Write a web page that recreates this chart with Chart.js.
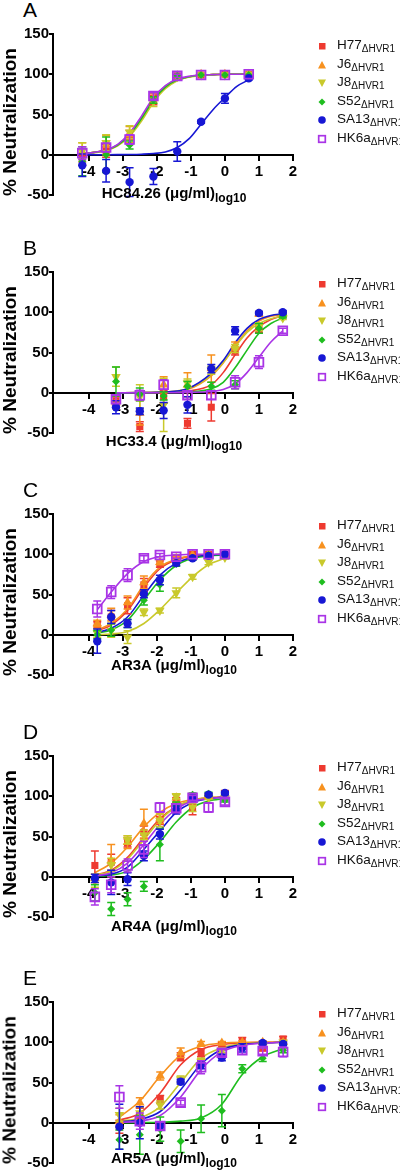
<!DOCTYPE html>
<html><head><meta charset="utf-8">
<script src="https://cdn.jsdelivr.net/npm/chart.js@4.4.0/dist/chart.umd.min.js"></script>
<style>
body{margin:0;width:400px;height:1172px;position:relative;background:#fff;overflow:hidden;font-family:"Liberation Sans",Arial,sans-serif;color:#000}
canvas{position:absolute;left:0}
.let{position:absolute;left:23px;font-size:21px;line-height:21px}
.ytitle{position:absolute;left:9px;font-weight:bold;font-size:19px;line-height:19px;white-space:nowrap;transform:translate(-50%,-50%) rotate(-90deg)}
.xtitle{position:absolute;left:174px;font-weight:bold;font-size:15px;line-height:15px;white-space:nowrap;transform:translateX(-50%)}
.xtitle sub{font-size:12px;vertical-align:baseline;position:relative;top:4px}
.leg{position:absolute;left:337px;font-size:13.5px;line-height:16px;white-space:nowrap;color:#111}
.leg sub{font-size:10px;vertical-align:baseline;position:relative;top:3px}
svg.mk{position:absolute;width:12px;height:12px}
</style></head><body>
<script>
// ---------- DATA ----------
const series = ['H77', 'J6', 'J8', 'S52', 'SA13', 'HK6a'];
const subLabel = 'ΔHVR1';
const xTicks = [-4, -3, -2, -1, 0, 1, 2];
const yTicks = [-50, 0, 50, 100, 150];
const antibodies = ['HC84.26', 'HC33.4', 'AR3A', 'AR4A', 'AR5A'];

// Panel A
const xA = [-4.19, -3.49, -2.8, -2.1, -1.4, -0.7, 0, 0.7];
const valA = [
  [-3, 5, 22, 68, 98, 99, 100, 100],
  [3, 12, 25, 70, 98, 100, 100, 100],
  [5, 15, 28, 66, 97, 99, 99, 100],
  [-8, 0, 12, 68, 98, 99, 99, 99],
  [-13, -20, -34, -27, 4, 41, 70, 95],
  [2, 9, 19, 73, 98, 99, 99, 100]
];
const errA = [
  [10, 8, 8, 6, 0, 0, 0, 0],
  [12, 12, 10, 6, 0, 0, 0, 0],
  [10, 10, 8, 6, 0, 0, 0, 0],
  [18, 22, 5, 4, 0, 0, 0, 0],
  [14, 14, 18, 10, 12, 2, 6, 2],
  [8, 5, 6, 4, 2, 0, 0, 0]
];
const fitXA = [-4.19, -3.84, -3.49, -3.15, -2.8, -2.45, -2.1, -1.75, -1.4, -1.05, -0.7, -0.35, 0, 0.35, 0.7];
const fitA = [
  [1.5, 3, 6, 12, 25, 45, 68, 84, 93, 97, 99, 99.5, 100, 100, 100],
  [1.5, 3, 6, 12, 26, 46, 69, 85, 93, 97, 99, 99.5, 100, 100, 100],
  [1, 2.5, 5, 11, 23, 42, 65, 82, 92, 96.5, 98.5, 99.5, 100, 100, 100],
  [1.5, 3, 6, 12, 25, 45, 68, 84, 93, 97, 99, 99.5, 100, 100, 100],
  [0, 0, 0, 0.1, 0.3, 0.7, 1.5, 3.5, 9, 20, 38, 56, 71, 85, 93],
  [1.5, 3, 6, 13, 27, 48, 71, 86, 94, 97.5, 99, 99.5, 100, 100, 100]
];

// Panel B
const xB = [-3.2, -2.5, -1.8, -1.1, -0.4, 0.3, 1.0, 1.7];
const valB = [
  [-10, -42, -5, -38, -18, 52, 80, 97],
  [-12, -25, 10, 10, 30, 58, 98, 98],
  [20, -5, -15, 12, 28, 55, 82, 93],
  [14, -2, -4, 8, 8, 10, 80, 95],
  [-18, -23, -22, -15, 30, 77, 99, 100],
  [-8, -3, 10, -3, -3, 13, 38, 77]
];
const errB = [
  [5, 6, 8, 6, 17, 5, 5, 3],
  [8, 15, 10, 15, 17, 5, 3, 2],
  [12, 15, 33, 5, 5, 5, 5, 2],
  [18, 8, 5, 6, 5, 5, 6, 2],
  [8, 4, 10, 10, 5, 5, 2, 2],
  [5, 6, 6, 5, 5, 8, 8, 3]
];
const fitXB = [-3.2, -2.5, -1.8, -1.1, -0.4, -0.05, 0.3, 0.65, 1.0, 1.35, 1.7];
const fitB = [
  [0, 0, 0.5, 2, 10, 25, 47, 68, 82, 91, 96],
  [0, 0.3, 1, 4, 21, 37, 58, 77, 89, 95, 97],
  [0, 0.3, 1, 5, 22, 38, 57, 75, 86, 92, 95],
  [0, 0, 0.3, 1, 5, 13, 31, 53, 74, 86, 93],
  [0, 0.3, 1, 5, 24, 40, 62, 80, 91, 96, 98],
  [0, 0, 0, 0.5, 1.5, 4, 11, 25, 44, 63, 77]
];

// Panel C
const xC = [-3.75, -3.34, -2.86, -2.38, -1.91, -1.43, -0.95, -0.48, 0];
const valC = [
  [12, 22, 36, 62, 88, 95, 100, 100, 100],
  [14, 25, 40, 65, 90, 95, 99, 100, 99],
  [2, 5, -3, 28, 30, 52, 72, 90, 96],
  [0, 6, 14, 43, 62, 88, 95, 99, 100],
  [-8, 22, 14, 51, 68, 89, 95, 98, 100],
  [32, 53, 74, 95, 99, 97, 100, 100, 100]
];
const errC = [
  [4, 8, 10, 8, 4, 2, 0, 0, 0],
  [4, 8, 8, 8, 3, 2, 0, 0, 0],
  [5, 8, 8, 4, 3, 6, 3, 3, 2],
  [5, 8, 5, 6, 8, 3, 2, 0, 0],
  [15, 8, 5, 5, 6, 3, 2, 0, 0],
  [10, 8, 8, 3, 2, 2, 0, 0, 0]
];
const fitXC = xC;
const fitC = [
  [5, 12, 30, 59, 82, 93, 98, 99, 100],
  [6, 14, 32, 62, 84, 94, 98, 99, 100],
  [0, 1, 4, 14, 31, 52, 72, 87, 95],
  [2, 6, 18, 43, 68, 86, 95, 98, 99],
  [3, 8, 22, 49, 74, 89, 96, 99, 100],
  [31, 53, 76, 91, 97, 99, 100, 100, 100]
];

// Panel D
const xD = [-3.82, -3.34, -2.86, -2.38, -1.91, -1.43, -0.95, -0.48, 0];
const valD = [
  [14, 18, 42, 55, 70, 95, 86, 100, 103],
  [-2, 20, 43, 66, 72, 98, 100, 100, 100],
  [-5, 15, 46, 52, 70, 100, 86, 98, 98],
  [-20, -40, -28, -12, 40, 88, 102, 103, 95],
  [-2, -7, -3, 26, 53, 83, 98, 102, 104],
  [-25, -10, 14, 34, 86, 85, 98, 86, 93]
];
const errD = [
  [18, 10, 5, 8, 5, 3, 9, 3, 4],
  [5, 20, 8, 18, 6, 5, 3, 2, 2],
  [8, 8, 5, 6, 8, 3, 5, 2, 2],
  [10, 8, 8, 6, 20, 5, 2, 2, 2],
  [5, 15, 8, 6, 6, 5, 2, 2, 2],
  [10, 10, 8, 10, 6, 5, 3, 6, 4]
];
const fitXD = xD;
const fitD = [
  [2, 8, 24, 49, 72, 87, 95, 98, 99],
  [5, 17, 37, 62, 80, 91, 96, 98, 99],
  [2, 7, 22, 46, 70, 87, 95, 98, 99],
  [0.5, 2, 7, 22, 43, 68, 86, 94, 97],
  [1, 3, 12, 34, 57, 80, 92, 97, 99],
  [1, 5, 17, 40, 65, 84, 94, 97, 99]
];

// Panel E
const xE = [-3.1, -2.5, -1.9, -1.3, -0.7, -0.09, 0.51, 1.11, 1.71];
const valE = [
  [-5, 8, 29, 82, 87, 97, 102, 93, 104],
  [2, 25, 58, 87, 98, 99, 100, 100, 100],
  [10, 12, 22, 54, 76, 90, 95, 97, 100],
  [-21, -15, -8, -23, 5, 15, 67, 80, 90],
  [-5, 0, -4, 51, 72, 81, 93, 99, 98],
  [32, 2, -4, 25, 69, 87, 90, 89, 88]
];
const errE = [
  [8, 10, 5, 5, 5, 3, 4, 4, 3],
  [8, 6, 5, 6, 3, 2, 2, 2, 2],
  [8, 8, 5, 4, 4, 3, 3, 2, 2],
  [12, 24, 15, 14, 17, 20, 5, 4, 3],
  [28, 20, 5, 3, 5, 4, 5, 2, 2],
  [14, 10, 5, 3, 8, 4, 5, 4, 6]
];
const fitXE = xE;
const fitE = [
  [3, 12, 37, 72, 91, 97, 99, 100, 100],
  [7, 27, 58, 84, 95, 99, 100, 100, 100],
  [2, 6, 20, 50, 80, 93, 98, 99, 100],
  [0, 0.2, 0.7, 2, 6, 23, 60, 82, 92],
  [1, 4, 14, 41, 73, 91, 97, 99, 100],
  [0.5, 2, 9, 32, 66, 88, 96, 99, 100]
];

// ---------- STYLE / LAYOUT ----------
const colors = ['#ee3a30', '#f7911f', '#c9c92b', '#1fbd1f', '#1717d4', '#a934e6'];
const markers = [
  {style: 'rect', radius: 5, rotation: 0, fill: true},
  {style: 'triangle', radius: 5.5, rotation: 0, fill: true},
  {style: 'triangle', radius: 5.5, rotation: 180, fill: true},
  {style: 'rectRot', radius: 4, rotation: 0, fill: true},
  {style: 'circle', radius: 4.2, rotation: 0, fill: true},
  {style: 'rect', radius: 6.2, rotation: 0, fill: false}
];
const FONT = '"Liberation Sans", Arial, sans-serif';

const panels = [
  {letter: 'A', ab: antibodies[0], top: 34, titleBase: 198, x: xA, val: valA, err: errA, fx: fitXA, fit: fitA},
  {letter: 'B', ab: antibodies[1], top: 272, titleBase: 446, x: xB, val: valB, err: errB, fx: fitXB, fit: fitB},
  {letter: 'C', ab: antibodies[2], top: 514, titleBase: 670, x: xC, val: valC, err: errC, fx: fitXC, fit: fitC},
  {letter: 'D', ab: antibodies[3], top: 756, titleBase: 931, x: xD, val: valD, err: errD, fx: fitXD, fit: fitD},
  {letter: 'E', ab: antibodies[4], top: 1002, titleBase: 1163, x: xE, val: valE, err: errE, fx: fitXE, fit: fitE}
];

const errorBars = {
  id: 'errorBars',
  beforeDatasetDraw(chart, args) {
    const ds = chart.data.datasets[args.index];
    if (!ds.yErr) return;
    const xs = chart.scales.x, ys = chart.scales.y, ctx = chart.ctx;
    ctx.save();
    ctx.strokeStyle = ds.errColor;
    ctx.lineWidth = 1.5;
    ds.data.forEach((p, i) => {
      const e = ds.yErr[i];
      if (!e) return;
      const px = xs.getPixelForValue(p.x);
      const p1 = ys.getPixelForValue(p.y + e);
      const p2 = ys.getPixelForValue(p.y - e);
      ctx.beginPath();
      ctx.moveTo(px, p1); ctx.lineTo(px, p2);
      ctx.moveTo(px - 4, p1); ctx.lineTo(px + 4, p1);
      ctx.moveTo(px - 4, p2); ctx.lineTo(px + 4, p2);
      ctx.stroke();
    });
    ctx.restore();
  }
};

function markerSVG(i) {
  const c = colors[i];
  let inner = '';
  if (i === 0) inner = `<rect x="3" y="3" width="6.5" height="6.5" fill="${c}"/>`;
  if (i === 1) inner = `<polygon points="6,2 10,9.5 2,9.5" fill="${c}"/>`;
  if (i === 2) inner = `<polygon points="2,2.5 10,2.5 6,10" fill="${c}"/>`;
  if (i === 3) inner = `<polygon points="6,2.5 9.5,6 6,9.5 2.5,6" fill="${c}"/>`;
  if (i === 4) inner = `<circle cx="6" cy="6" r="3.8" fill="${c}"/>`;
  if (i === 5) inner = `<rect x="2.7" y="2.7" width="6.6" height="6.6" fill="none" stroke="${c}" stroke-width="1.7"/>`;
  return inner;
}

panels.forEach(p => {
  const body = document.body;
  const canvasTop = p.top - 10;
  const cv = document.createElement('canvas');
  cv.width = 400; cv.height = 185;
  cv.style.top = canvasTop + 'px';
  cv.style.width = '400px'; cv.style.height = '185px';
  body.appendChild(cv);

  const datasets = [];
  series.forEach((s, i) => {
    const m = markers[i];
    datasets.push({
      type: 'scatter', label: s,
      data: p.x.map((xv, j) => ({x: xv, y: p.val[i][j]})),
      yErr: p.err[i], errColor: colors[i],
      pointStyle: m.style, rotation: m.rotation, pointRadius: m.radius,
      backgroundColor: m.fill ? colors[i] : 'rgba(255,255,255,0)',
      borderColor: colors[i], borderWidth: m.fill ? 0 : 1.8,
      showLine: false, clip: false, order: 10 - i
    });
    datasets.push({
      type: 'line', label: s + ' fit',
      data: p.fx.map((xv, j) => ({x: xv, y: p.fit[i][j]})),
      borderColor: colors[i], borderWidth: 1.6, pointRadius: 0, fill: false,
      showLine: true, cubicInterpolationMode: 'monotone', clip: false, order: 20 - i
    });
  });

  new Chart(cv, {
    type: 'scatter',
    data: {datasets},
    plugins: [errorBars],
    options: {
      responsive: false, animation: false, devicePixelRatio: 1,
      layout: {padding: {top: 10, left: 0, right: 107, bottom: 14}},
      plugins: {legend: {display: false}, tooltip: {enabled: false}},
      scales: {
        x: {
          type: 'linear', min: -5.05, max: 2, position: {y: 0},
          afterFit(s) { s.height = 0; },
          afterBuildTicks(s) { s.ticks = xTicks.map(v => ({value: v})); },
          grid: {drawOnChartArea: false, drawTicks: true, tickLength: 5, color: '#000', lineWidth: 2},
          border: {display: true, color: '#000', width: 2},
          ticks: {color: '#000', font: {family: FONT, size: 15, weight: 'bold'}, padding: 3, maxRotation: 0, autoSkip: false}
        },
        y: {
          type: 'linear', min: -50, max: 150,
          afterFit(s) { s.width = 53; },
          afterBuildTicks(s) { s.ticks = yTicks.map(v => ({value: v})); },
          grid: {drawOnChartArea: false, drawTicks: true, tickLength: 4, color: '#000', lineWidth: 2},
          border: {display: true, color: '#000', width: 2},
          ticks: {color: '#000', font: {family: FONT, size: 15, weight: 'bold'}, padding: 0}
        }
      }
    }
  });

  const L = document.createElement('div');
  L.className = 'let'; L.textContent = p.letter;
  L.style.top = (p.top - 32 - 2.7) + 'px';
  body.appendChild(L);

  const yt = document.createElement('div');
  yt.className = 'ytitle'; yt.textContent = '% Neutralization';
  yt.style.top = (p.top + 88) + 'px';
  body.appendChild(yt);

  const xt = document.createElement('div');
  xt.className = 'xtitle';
  xt.innerHTML = p.ab + ' (μg/ml)<sub>log10</sub>';
  xt.style.top = (p.titleBase - 12.7) + 'px';
  body.appendChild(xt);

  series.forEach((s, i) => {
    const cy = p.top + 12 + i * 18.5;
    const svg = document.createElementNS('http://www.w3.org/2000/svg', 'svg');
    svg.setAttribute('class', 'mk');
    svg.setAttribute('viewBox', '0 0 12 12');
    svg.style.left = (322 - 6) + 'px';
    svg.style.top = (cy - 6) + 'px';
    svg.innerHTML = markerSVG(i);
    body.appendChild(svg);
    const t = document.createElement('div');
    t.className = 'leg';
    t.innerHTML = s + '<sub>' + subLabel + '</sub>';
    t.style.top = (cy - 9) + 'px';
    body.appendChild(t);
  });
});
</script>
</body></html>
